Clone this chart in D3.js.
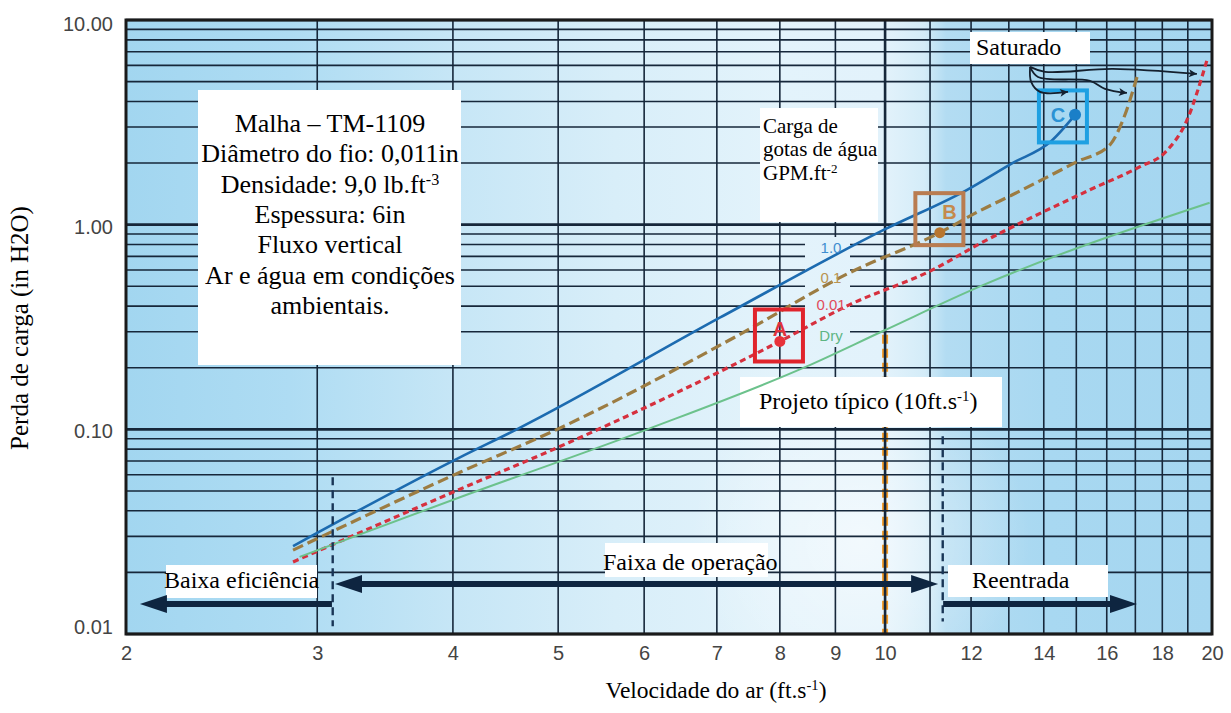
<!DOCTYPE html>
<html>
<head>
<meta charset="utf-8">
<script src="https://cdn.jsdelivr.net/npm/d3@7"></script>
<style>
  body { margin: 0; background: #ffffff; }
  svg { display: block; }
  .serif { font-family: "Liberation Serif", "Times New Roman", Times, serif; }
  .sans { font-family: "Liberation Sans", Arial, Helvetica, sans-serif; }
</style>
</head>
<body>
<svg id="chart" width="1231" height="713"></svg>
<script>
// Pressure drop across a TM-1109 mesh pad vs. superficial air velocity (log-log)

// ---- axis ticks ----
const velocityTicks = [2, 3, 4, 5, 6, 7, 8, 9, 10, 12, 14, 16, 18, 20];
const pressureTicks = [0.01, 0.1, 1, 10];
const pressureTickLabels = ["0.01", "0.10", "1.00", "10.00"];

// ---- curves: water load GPM.ft^-2 ----
const seriesNames = ["1.0", "0.1", "0.01", "Dry"];

const velLoad10 = [2.85, 4.06, 4.58, 7.05, 9.98, 11.9, 13.1, 14.2, 14.96];
const dpLoad10  = [0.0269, 0.073, 0.100, 0.352, 0.945, 1.48, 2.0, 2.54, 3.44];

const velLoad01 = [2.85, 4.06, 4.99, 7.35, 9.28, 11.23, 12.18, 13.1, 15.02, 16.1, 16.56, 17.06];
const dpLoad01  = [0.0257, 0.0617, 0.100, 0.291, 0.583, 0.914, 1.157, 1.40, 2.03, 2.45, 3.25, 5.27];

const velLoad001 = [2.85, 4.06, 5.0, 8.0, 9.28, 11.07, 12.18, 15.44, 17.17, 18.1, 18.97, 19.79];
const dpLoad001  = [0.0225, 0.051, 0.0817, 0.269, 0.407, 0.603, 0.799, 1.48, 1.92, 2.25, 3.25, 6.38];

const velDry = [2.89, 4.06, 6.04, 8.47, 9.98, 12.23, 19.9];
const dpDry  = [0.0238, 0.0466, 0.100, 0.203, 0.304, 0.499, 1.28];

// ---- marked operating points A, B, C ----
const pointNames = ["A", "B", "C"];
const pointVel = [8.0, 11.23, 14.96];
const pointDp  = [0.269, 0.914, 3.44];
// square frames around each point (centre)
const frameVel = [7.985, 11.22, 14.58];
const frameDp  = [0.2874, 1.064, 3.38];

// ---- operating range limits ----
const typicalDesignVel = 10;
const typicalDesignDpRange = [0.29, 0.01];
const limitVel = [3.1, 11.3];
const limitDpTop = [0.0583, 0.0924];
const limitDpBottom = [0.0109, 0.0115];

// ---- range arrows (velocity from -> to, at a pressure level) ----
const rangeArrowFrom = [3.095, 3.115, 11.31];
const rangeArrowTo   = [2.06, 11.19, 17.06];
const rangeArrowDp   = [0.0140, 0.01754, 0.0140];
const rangeArrowBoth = [false, true, false];

// ---- "Saturado" pointer paths ----
const saturatedPaths = [
  [[13.6, 5.90], [13.63, 4.985], [13.89, 4.456], [14.74, 4.456]],
  [[13.6, 5.90], [13.83, 5.27], [15.44, 5.04], [15.94, 4.61], [16.7, 4.40]],
  [[13.6, 5.90], [14.04, 5.58], [16.21, 5.77], [19.37, 5.45]]
];

// ---------------------------------------------------------------
const svg = d3.select("#chart");
const plot = { left: 126, right: 1212, top: 20, bottom: 634 };

const x = d3.scaleLog().domain([2, 20]).range([plot.left, plot.right]);
const y = d3.scaleLog().domain([0.01, 10]).range([plot.bottom, plot.top]);

const gridColor = "#16273a";
const navy = "#0e2540";

// ---- defs: backgrounds, markers ----
const defs = svg.append("defs");
const bg = defs.append("linearGradient").attr("id", "bgGrad")
  .attr("gradientUnits", "userSpaceOnUse")
  .attr("x1", plot.left).attr("x2", plot.right).attr("y1", 0).attr("y2", 0);
[[0, "#a2d6f0"], [0.15, "#aedcf3"], [0.3, "#c6e6f6"], [0.45, "#d8eef9"],
 [0.6, "#e3f3fb"], [0.7, "#e2f2fb"], [0.735, "#d4ecf8"], [0.755, "#b3dcf2"],
 [0.85, "#a8d8f1"], [1, "#a5d6f0"]].forEach(([o, c]) =>
  bg.append("stop").attr("offset", o).attr("stop-color", c));

const glow = defs.append("radialGradient").attr("id", "glow")
  .attr("gradientUnits", "userSpaceOnUse")
  .attr("cx", 860).attr("cy", 540).attr("r", 170);
glow.append("stop").attr("offset", 0).attr("stop-color", "#ffffff").attr("stop-opacity", 0.55);
glow.append("stop").attr("offset", 1).attr("stop-color", "#ffffff").attr("stop-opacity", 0);

defs.append("marker").attr("id", "thinHead")
  .attr("viewBox", "0 0 10 10").attr("refX", 10).attr("refY", 5)
  .attr("markerWidth", 12).attr("markerHeight", 8)
  .attr("markerUnits", "userSpaceOnUse").attr("orient", "auto")
  .append("path").attr("d", "M0,0 L10,5 L0,10 L2.5,5 Z").attr("fill", "#14202e");

// ---- plot background ----
const pw = plot.right - plot.left, ph = plot.bottom - plot.top;
svg.append("rect").attr("x", plot.left).attr("y", plot.top)
  .attr("width", pw).attr("height", ph).attr("fill", "url(#bgGrad)");
svg.append("rect").attr("x", plot.left).attr("y", plot.top)
  .attr("width", pw).attr("height", ph).attr("fill", "url(#glow)");

// ---- typical design line (under the grid so the grid line shows through) ----
svg.append("line")
  .attr("x1", x(typicalDesignVel)).attr("x2", x(typicalDesignVel))
  .attr("y1", y(typicalDesignDpRange[0])).attr("y2", y(typicalDesignDpRange[1]))
  .attr("stroke", "#f39b28").attr("stroke-width", 6)
  .attr("stroke-dasharray", "9,5");

// ---- grid ----
const vGrid = d3.range(3, 20);
const hGrid = y.ticks().filter(v => v > 0.0099 && v < 10.01);
const isDecade = v => Math.abs(Math.log10(v) - Math.round(Math.log10(v))) < 1e-6;

const gridG = svg.append("g");
gridG.selectAll("line.h").data(hGrid).join("line")
  .attr("x1", plot.left).attr("x2", plot.right)
  .attr("y1", d => y(d)).attr("y2", d => y(d))
  .attr("stroke", gridColor)
  .attr("stroke-width", d => isDecade(d) ? 2.6 : 1.6);
gridG.selectAll("line.v").data(vGrid).join("line")
  .attr("y1", plot.top).attr("y2", plot.bottom)
  .attr("x1", d => x(d)).attr("x2", d => x(d))
  .attr("stroke", gridColor)
  .attr("stroke-width", d => d === 10 ? 2.6 : 1.6);

// ---- white annotation panels ----
const panels = [
  [198, 90, 263, 275],    // mesh description
  [760, 108, 118, 114],   // water load caption
  [970, 32, 120, 32],     // Saturado
  [740, 377, 262, 50],    // Projeto típico
  [166, 565, 151, 33],    // Baixa eficiência
  [605, 543, 163, 34],    // Faixa de operação
  [948, 565, 160, 32]     // Reentrada
];
svg.append("g").selectAll("rect").data(panels).join("rect")
  .attr("x", d => d[0]).attr("y", d => d[1])
  .attr("width", d => d[2]).attr("height", d => d[3])
  .attr("fill", "#ffffff");

// clear area behind the curve names
const gapG = svg.append("g");
["url(#bgGrad)", "url(#glow)"].forEach(f =>
  gapG.append("rect").attr("x", 805).attr("y", 237).attr("width", 45).attr("height", 110).attr("fill", f));

// ---- curves ----
const line = d3.line().x(d => x(d[0])).y(d => y(d[1])).curve(d3.curveMonotoneX);
const zip = (a, b) => a.map((v, i) => [v, b[i]]);
const curves = [
  { pts: zip(velLoad10, dpLoad10),   color: "#1c6bb0", width: 2.6, dash: null },
  { pts: zip(velLoad01, dpLoad01),   color: "#9c7c42", width: 3.2, dash: "11,5" },
  { pts: zip(velLoad001, dpLoad001), color: "#d6303e", width: 3.2, dash: "6,4" },
  { pts: zip(velDry, dpDry),         color: "#6cc28c", width: 2, dash: null }
];
svg.append("g").selectAll("path").data(curves).join("path")
  .attr("d", d => line(d.pts))
  .attr("fill", "none")
  .attr("stroke", d => d.color)
  .attr("stroke-width", d => d.width)
  .attr("stroke-dasharray", d => d.dash);

// curve names
const curveLabelPos = [[831, 253], [831, 283], [831, 310], [831, 341]];
const curveLabelColor = ["#3e8ed0", "#b99350", "#e04c5c", "#5db583"];
svg.append("g").selectAll("text").data(seriesNames).join("text")
  .attr("class", "sans")
  .attr("x", (d, i) => curveLabelPos[i][0]).attr("y", (d, i) => curveLabelPos[i][1])
  .attr("text-anchor", "middle")
  .attr("font-size", 15)
  .attr("fill", (d, i) => curveLabelColor[i])
  .text(d => d);

// ---- points A, B, C ----
const frameColor = ["#e0242c", "#b97c50", "#1ea0e2"];
const dotColor = ["#e8323a", "#b8762e", "#1a7fc8"];
const letterColor = ["#e2323c", "#c48a4c", "#2a92d4"];
const letterOffset = [[1, 1], [10, 0], [-5, 6]];
const frameSide = 48;
const ptG = svg.append("g");
pointNames.forEach((name, i) => {
  const cx = x(frameVel[i]), cy = y(frameDp[i]);
  ptG.append("rect")
    .attr("x", cx - frameSide / 2).attr("y", cy - frameSide / 2 - 2)
    .attr("width", frameSide).attr("height", frameSide + 4)
    .attr("fill", "none").attr("stroke", frameColor[i]).attr("stroke-width", 4);
  ptG.append("text")
    .attr("class", "sans")
    .attr("x", cx + letterOffset[i][0]).attr("y", cy + letterOffset[i][1])
    .attr("text-anchor", "middle")
    .attr("font-weight", "bold").attr("font-size", 20)
    .attr("fill", letterColor[i]).text(name);
  ptG.append("circle")
    .attr("cx", x(pointVel[i])).attr("cy", y(pointDp[i]))
    .attr("r", i === 2 ? 6 : 5.5).attr("fill", dotColor[i]);
});

// ---- operating range limits ----
svg.append("g").selectAll("line").data(limitVel).join("line")
  .attr("x1", d => x(d)).attr("x2", d => x(d))
  .attr("y1", (d, i) => y(limitDpTop[i])).attr("y2", (d, i) => y(limitDpBottom[i]))
  .attr("stroke", "#183556").attr("stroke-width", 2.4)
  .attr("stroke-dasharray", "8,5");

// ---- range arrows ----
const arrowG = svg.append("g");
const headLen = 27, headHalf = 9;
rangeArrowFrom.forEach((v0, i) => {
  const yy = y(rangeArrowDp[i]);
  const x0 = x(v0), x1 = x(rangeArrowTo[i]);
  const dir = Math.sign(x1 - x0);
  const s0 = rangeArrowBoth[i] ? x0 + dir * headLen * 0.8 : x0;
  arrowG.append("line")
    .attr("x1", s0).attr("x2", x1 - dir * headLen * 0.8)
    .attr("y1", yy).attr("y2", yy)
    .attr("stroke", navy).attr("stroke-width", 6);
  const head = (tip, d) => [[tip, yy], [tip - d * headLen, yy - headHalf], [tip - d * headLen, yy + headHalf]];
  arrowG.append("polygon").attr("points", head(x1, dir).join(" ")).attr("fill", navy);
  if (rangeArrowBoth[i])
    arrowG.append("polygon").attr("points", head(x0, -dir).join(" ")).attr("fill", navy);
});

// ---- "Saturado" pointers ----
const curvy = d3.line().x(d => x(d[0])).y(d => y(d[1])).curve(d3.curveCatmullRom.alpha(0.5));
svg.append("g").selectAll("path").data(saturatedPaths).join("path")
  .attr("d", d => curvy(d))
  .attr("fill", "none").attr("stroke", "#14202e").attr("stroke-width", 1.8)
  .attr("marker-end", "url(#thinHead)");

// ---- axes ----
const xAxis = d3.axisBottom(x).tickValues(velocityTicks)
  .tickFormat(d3.format("d")).tickSize(0).tickPadding(12);
const xg = svg.append("g").attr("transform", `translate(0,${plot.bottom})`).call(xAxis);
xg.select(".domain").remove();
xg.selectAll("text").attr("class", "sans").attr("font-family", null)
  .attr("font-size", 20).attr("fill", "#444");

const yAxis = d3.axisLeft(y).tickValues(pressureTicks)
  .tickFormat((d, i) => pressureTickLabels[i]).tickSize(0).tickPadding(13);
const yg = svg.append("g").attr("transform", `translate(${plot.left},0)`).call(yAxis);
yg.select(".domain").remove();
yg.selectAll("text").attr("class", "sans").attr("font-size", 20).attr("fill", "#444")
  .attr("dy", (d, i) => i === 0 ? "-0.05em" : i === 3 ? "0.5em" : "0.42em");
xg.attr("font-family", null);
yg.attr("font-family", null);

// ---- frame ----
svg.append("rect").attr("x", plot.left).attr("y", plot.top)
  .attr("width", pw).attr("height", ph)
  .attr("fill", "none").attr("stroke", "#1a1a1a").attr("stroke-width", 3);

// ---- texts ----
function richText(g, xPos, yPos, parts, size, anchor) {
  const t = g.append("text").attr("class", "serif")
    .attr("x", xPos).attr("y", yPos)
    .attr("font-size", size)
    .attr("text-anchor", anchor || "start").attr("fill", "#000");
  parts.forEach(p => {
    if (typeof p === "string") t.append("tspan").text(p);
    else t.append("tspan").attr("font-size", size * 0.62)
      .attr("baseline-shift", "super").text(p.sup);
  });
  return t;
}
const txt = svg.append("g");

const infoLines = [
  ["Malha – TM-1109"],
  ["Diâmetro do fio: 0,011in"],
  ["Densidade: 9,0 lb.ft", { sup: "-3" }],
  ["Espessura: 6in"],
  ["Fluxo vertical"],
  ["Ar e água em condições"],
  ["ambientais."]
];
infoLines.forEach((parts, i) => richText(txt, 330, 132 + i * 30.3, parts, 26, "middle"));

richText(txt, 763, 133, ["Carga de"], 21);
richText(txt, 763, 156, ["gotas de água"], 21);
richText(txt, 763, 180, ["GPM.ft", { sup: "-2" }], 21);

richText(txt, 976, 55, ["Saturado"], 24);
richText(txt, 759, 409, ["Projeto típico (10ft.s", { sup: "-1" }, ")"], 24);
richText(txt, 164, 588, ["Baixa eficiência"], 24);
richText(txt, 603, 570, ["Faixa de operação"], 24);
richText(txt, 972, 588, ["Reentrada"], 24);

// axis titles
richText(txt, 716, 698, ["Velocidade do ar (ft.s", { sup: "-1" }, ")"], 23.5, "middle");
richText(txt, 0, 0, ["Perda de carga (in H2O)"], 25, "middle")
  .attr("transform", "translate(28,328) rotate(-90)");
</script>
</body>
</html>
